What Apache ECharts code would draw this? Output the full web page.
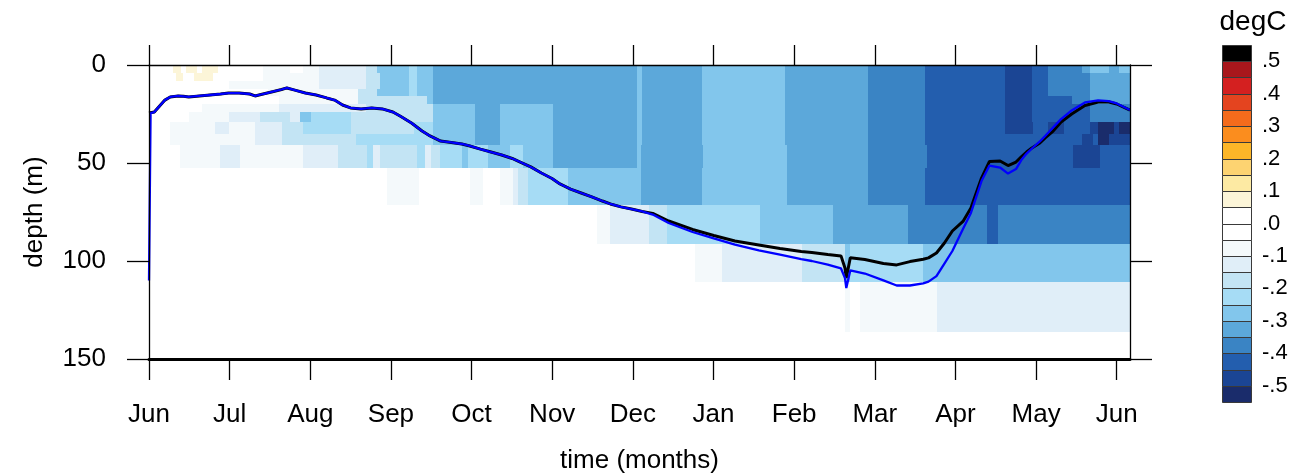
<!DOCTYPE html>
<html><head><meta charset="utf-8">
<script src="https://cdn.jsdelivr.net/npm/echarts@6/dist/echarts.min.js"></script>
<style>html,body{margin:0;padding:0;background:#fff}#c{width:1297px;height:474px}</style>
</head><body><div id="c"></div>
<script>
// ---- axes / tick labels ----
const monthTicks = [0, 30.42, 60.83, 91.25, 121.67, 152.08, 182.5, 212.92, 243.33, 273.75, 304.17, 334.58, 365];
const monthLabels = ['Jun','Jul','Aug','Sep','Oct','Nov','Dec','Jan','Feb','Mar','Apr','May','Jun'];
const depthTicks = [0, 50, 100, 150];
// ---- colour scale (degC) ----
const binEdges = [-0.55,-0.5,-0.45,-0.4,-0.35,-0.3,-0.25,-0.2,-0.15,-0.1,-0.05,0,0.05,0.1,0.15,0.2,0.25,0.3,0.35,0.4,0.45,0.5,0.55];
const binColors = ['#1a2c6b','#1b4594','#235eae','#3a84c4','#5ca8da','#82c6ec','#a6dcf5','#c3e4f4','#e0eef8','#f4f9fb','#ffffff',
                   '#ffffff','#fcf5d8','#fdeaa3','#fdd371','#fdb628','#fb8d1e','#f46b1c','#e4441f','#d42020','#a8171c','#000000'];
const cbarLabels = [-0.5,-0.4,-0.3,-0.2,-0.1,0,0.1,0.2,0.3,0.4,0.5];

// ---- mixed layer depth lines (day since 1 Jun, depth m) ----
const mldDays = [0,0.6,2,4,6,8,11,13,15,19,23,27,30,34,38,40,43,47,50,52,55,59,63,67,70,73,76,80,84,88,92,95,99,103,106,110,114,118,121,125,129,133,137,140,144,148,152,155,159,163,167,171,174,178,182,186,
  190,196,205,213,221,230,238,246,250,256,261,262.5,263,264.5,270,277,282,287,292,294,297,300,303,307,310,314,317,321,324,327,329,331,333,336,338,341,344,348,353,358,362,365,370];
const mldBlack = [24.5,24.5,24,20.9,17.9,16.3,15.8,16,16.3,15.8,15.3,14.8,14.3,14.3,14.8,15.8,14.8,13.5,12.5,11.7,12.8,14.3,15.3,16.8,17.9,20.4,21.9,22.4,21.9,22.4,24,26.3,29.6,33.7,36.2,38.8,39.5,40.3,41.3,42.9,44.4,45.9,47.7,49.5,52,55.1,57.9,60.7,63.3,65.3,67.3,69.4,70.9,72.4,73.5,74.7,
  75.7,79.6,83.9,87,89.8,91.8,93.6,95.2,95.7,96.7,97.4,103.6,108.7,98.3,99.2,101.3,102,100.3,99.1,98.4,95.9,90.8,84.7,79.8,73,57.7,49.2,49,51.3,49.5,46.9,44.4,42.3,39.8,37.2,33.7,29.1,25,20.7,18.9,18.9,19.9,23];
const mldBlue = [110,24.5,24,20.9,17.9,16.3,15.8,16,16.3,15.8,15.3,14.8,14.3,14.3,14.8,15.8,14.8,13.5,12.5,11.7,12.8,14.3,15.3,16.8,17.9,20.4,21.9,22.4,21.9,22.4,24,26.3,29.6,33.7,36.2,38.8,39.5,40.3,41.3,42.9,44.4,45.9,47.7,49.5,52,55.1,57.9,60.7,63.3,65.3,67.3,69.4,70.9,72.4,73.5,74.7,
  76.3,80.6,85.2,88.5,91.6,94.6,96.7,99,100,101.8,103.8,108.7,113.8,104.8,106.4,109.9,112.5,112.5,111.4,110.5,107.7,101.3,94.9,83.7,75.5,59.2,51.3,52.3,55.4,53.1,48.5,45.2,42.6,39,36.2,31.9,27.6,23.2,19.1,18,18.4,19.6,23];

// ---- temperature anomaly blocks per depth layer: [startDay, endDay, value] ----
const seg_0_4 = [[9,12,0.075],[14,18,0.075],[20,26,0.075],[43,53,-0.075],[58,64,-0.075],[64,82,-0.125],[82,86,-0.175],[86,98,-0.275],[98,101,-0.225],[101,107,-0.275],[107,184,-0.325],[184,186,-0.275],[186,208.5,-0.325],[208.5,240,-0.275],[240,271,-0.325],[271,292.6,-0.375],[292.6,322.8,-0.425],[322.8,333,-0.475],[333,339,-0.425],[339,352,-0.375],[352,355,-0.325],[355,362,-0.275],[362,366,-0.325],[366,370,-0.275]];
const seg_4_8 = [[10,13,0.075],[17,24,0.075],[43,64,-0.075],[64,82,-0.125],[82,87,-0.175],[87,98,-0.275],[98,101,-0.225],[101,107,-0.275],[107,184,-0.325],[184,186,-0.275],[186,208.5,-0.325],[208.5,240,-0.275],[240,271,-0.325],[271,292.6,-0.375],[292.6,322.8,-0.425],[322.8,333,-0.475],[333,339,-0.425],[339,355,-0.375],[355,370,-0.325]];
const seg_8_12 = [[30,64,-0.075],[64,82,-0.125],[82,87,-0.175],[87,98,-0.275],[98,101,-0.225],[101,107,-0.275],[107,184,-0.325],[184,186,-0.275],[186,208.5,-0.325],[208.5,240,-0.275],[240,271,-0.325],[271,292.6,-0.375],[292.6,322.8,-0.425],[322.8,333,-0.475],[333,339,-0.425],[339,355,-0.375],[355,370,-0.325]];
const seg_12_16 = [[45,79,-0.075],[79,86,-0.175],[86,98,-0.275],[98,101,-0.225],[101,107,-0.275],[107,184,-0.325],[184,186,-0.275],[186,208.5,-0.325],[208.5,240,-0.275],[240,271,-0.325],[271,292.6,-0.375],[292.6,322.8,-0.425],[322.8,333,-0.475],[333,339,-0.425],[339,355,-0.375],[355,370,-0.325]];
const seg_16_20 = [[49,79,-0.075],[79,104.8,-0.175],[104.8,107,-0.275],[107,184,-0.325],[184,186,-0.275],[186,208.5,-0.325],[208.5,240,-0.275],[240,271,-0.325],[271,292.6,-0.375],[292.6,322.8,-0.425],[322.8,333,-0.475],[333,348,-0.425],[348,355,-0.375],[355,370,-0.325]];
const seg_20_24 = [[20,49,-0.075],[49,82,-0.125],[82,107,-0.175],[107,122.9,-0.275],[122.9,132.4,-0.325],[132.4,152.3,-0.275],[152.3,184,-0.325],[184,186,-0.275],[186,208.5,-0.325],[208.5,240,-0.275],[240,271,-0.325],[271,292.6,-0.375],[292.6,322.8,-0.425],[322.8,333,-0.475],[333,355,-0.425],[355,370,-0.375]];
const seg_24_29 = [[15,30,-0.075],[30,42,-0.125],[42,53,-0.175],[53,57,-0.125],[57,61,-0.275],[61,76,-0.225],[76,107,-0.175],[107,122.9,-0.275],[122.9,132.4,-0.325],[132.4,152.3,-0.275],[152.3,184,-0.325],[184,186,-0.275],[186,208.5,-0.325],[208.5,240,-0.275],[240,271,-0.325],[271,292.6,-0.375],[292.6,322.8,-0.425],[322.8,333,-0.475],[333,355,-0.425],[355,370,-0.375]];
const seg_29_35 = [[8,25,-0.075],[25,30,-0.125],[30,40,-0.075],[40,50,-0.125],[50,58,-0.175],[58,76,-0.225],[76,100,-0.175],[100,107,-0.225],[107,122.9,-0.275],[122.9,132.4,-0.325],[132.4,152.3,-0.275],[152.3,184,-0.325],[184,186,-0.275],[186,208.5,-0.325],[208.5,240,-0.275],[240,271,-0.325],[271,292.6,-0.375],[292.6,322.8,-0.425],[322.8,333.3,-0.475],[333.3,339,-0.425],[339,345,-0.475],[345,355,-0.425],[355,358,-0.475],[358,364,-0.525],[364,366,-0.475],[366,370,-0.525]];
const seg_35_41 = [[8,40,-0.075],[40,50,-0.125],[50,78,-0.175],[78,107,-0.225],[107,122.9,-0.275],[122.9,132.4,-0.325],[132.4,152.3,-0.275],[152.3,184,-0.325],[184,186,-0.275],[186,208.5,-0.325],[208.5,240,-0.275],[240,271,-0.325],[271,292.6,-0.375],[292.6,352,-0.425],[352,356,-0.475],[356,358,-0.425],[358,362,-0.525],[362,370,-0.475]];
const seg_41_53 = [[11.7,26.8,-0.075],[26.8,34.3,-0.125],[34.3,58.1,-0.075],[58.1,71.3,-0.125],[71.3,82.2,-0.175],[82.2,84.5,-0.225],[84.5,87,-0.125],[87,101,-0.175],[101,104,-0.225],[104,106.5,-0.125],[106.5,109.7,-0.175],[109.7,118,-0.225],[118,120.3,-0.275],[120.3,127.8,-0.225],[127.8,136.1,-0.275],[136.1,141,-0.225],[141,152.3,-0.275],[152.3,184,-0.325],[184,185.7,-0.275],[185.7,209,-0.325],[209,240.6,-0.275],[240.6,271.1,-0.325],[271.1,293.4,-0.375],[293.4,348.4,-0.425],[348.4,358.6,-0.475],[358.6,370,-0.425]];
const seg_53_71 = [[89.7,102,-0.075],[121,126,-0.075],[132.4,137.3,-0.075],[137.3,139,-0.125],[139,142.9,-0.175],[142.9,158,-0.225],[158,185.7,-0.275],[185.7,208.5,-0.325],[208.5,240.6,-0.275],[240.6,271.1,-0.325],[271.1,292.6,-0.375],[292.6,370,-0.425]];
const seg_71_92 = [[168.9,173.8,-0.075],[173.8,188.5,-0.125],[188.5,195.3,-0.175],[195.3,230.4,-0.225],[230.4,257.9,-0.275],[257.9,286.2,-0.325],[286.2,316,-0.375],[316,320.1,-0.425],[320.1,370,-0.375]];
const seg_92_111 = [[205.9,216,-0.075],[216,246.2,-0.125],[246.2,262.4,-0.175],[262.4,264.3,-0.275],[264.3,291.9,-0.225],[291.9,370,-0.275]];
const seg_111_136 = [[262.4,264.3,-0.075],[268.1,297.1,-0.075],[297.1,370,-0.125]];

const layers = [
  [0,4,seg_0_4],[4,8,seg_4_8],[8,12,seg_8_12],[12,16,seg_12_16],[16,20,seg_16_20],[20,24,seg_20_24],
  [24,29,seg_24_29],[29,35,seg_29_35],[35,41,seg_35_41],[41,52.7,seg_41_53],[52.7,71.4,seg_53_71],
  [71.4,91.5,seg_71_92],[91.5,110.5,seg_92_111],[110.5,136,seg_111_136]
];

const heatData = [];
layers.forEach(([d0,d1,segs]) => segs.forEach(([t0,t1,v]) => heatData.push([t0,t1,d0,d1,v])));

function colorOf(v){
  for (let i = 0; i < binColors.length; i++) { if (v < binEdges[i+1]) return binColors[i]; }
  return binColors[binColors.length-1];
}
const cbarData = binColors.map((c,i) => [binEdges[i], binEdges[i+1], i]);

const FONT = 'Liberation Sans, Arial, Helvetica, sans-serif';
const chart = echarts.init(document.getElementById('c'), null, {renderer:'canvas'});
const axLine = {show:true, onZero:false, lineStyle:{color:'#000', width:1.3}};
const tickStyle = {color:'#000', width:1.3};
chart.setOption({
  animation:false,
  backgroundColor:'#fff',
  grid:[
    {left:149, right:167, top:65, bottom:115, show:false, containLabel:false, outerBoundsMode:'none'},
    {left:1222, top:45, width:29, height:357, show:false, containLabel:false, outerBoundsMode:'none'}
  ],
  xAxis:[
    {type:'value', gridIndex:0, position:'bottom', min:0, max:370, z:10,
     axisLine:{show:true, onZero:false, lineStyle:{color:'#000', width:3}},
     axisTick:{show:true, inside:false, length:21, customValues:monthTicks, lineStyle:tickStyle},
     axisLabel:{show:true, customValues:monthTicks, margin:43, fontSize:26, color:'#000', fontFamily:FONT,
       formatter:(v)=>{const i = monthTicks.indexOf(v); return i>=0 ? monthLabels[i] : '';}},
     splitLine:{show:false},
     name:'time (months)', nameLocation:'middle', nameGap:89,
     nameTextStyle:{fontSize:26, color:'#000', fontFamily:FONT}},
    {type:'value', gridIndex:0, position:'top', min:0, max:370, z:10,
     axisLine:axLine,
     axisTick:{show:true, inside:false, length:20, customValues:monthTicks, lineStyle:tickStyle},
     axisLabel:{show:false}, splitLine:{show:false}},
    {type:'value', gridIndex:1, min:0, max:1, show:false}
  ],
  yAxis:[
    {type:'value', gridIndex:0, position:'left', min:0, max:150, interval:50, inverse:true, z:10,
     axisLine:axLine,
     axisTick:{show:true, inside:false, length:22, lineStyle:tickStyle},
     axisLabel:{show:true, margin:43, fontSize:26, color:'#000', fontFamily:FONT},
     splitLine:{show:false},
     name:'depth (m)', nameLocation:'middle', nameGap:114, nameRotate:90,
     nameTextStyle:{fontSize:26, color:'#000', fontFamily:FONT, verticalAlign:'middle'}},
    {type:'value', gridIndex:0, position:'right', min:0, max:150, interval:50, inverse:true, z:10,
     axisLine:axLine,
     axisTick:{show:true, inside:false, length:22, lineStyle:tickStyle},
     axisLabel:{show:false}, splitLine:{show:false}},
    {type:'value', gridIndex:1, position:'right', min:-0.55, max:0.55, z:10,
     axisLine:{show:false}, axisTick:{show:false}, splitLine:{show:false},
     axisLabel:{show:true, customValues:cbarLabels, margin:11, fontSize:22, color:'#000', fontFamily:FONT,
       formatter:(v)=>{const a = Math.round(Math.abs(v)*10); return (v < -1e-9 ? '-' : '') + '.' + a;}},
     name:'degC', nameLocation:'end', nameGap:9,
     nameTextStyle:{fontSize:28, color:'#000', fontFamily:FONT, align:'center', padding:[0,0,0,62]}}
  ],
  series:[
    {type:'custom', xAxisIndex:0, yAxisIndex:0, z:1, clip:true,
     dimensions:['t0','t1','d0','d1','v'], encode:{x:[0,1], y:[2,3]},
     data:heatData,
     renderItem:(params, api) => {
       const a = api.coord([api.value(0), api.value(2)]);
       const b = api.coord([api.value(1), api.value(3)]);
       const x0 = Math.round(Math.min(a[0],b[0])), x1 = Math.round(Math.max(a[0],b[0]));
       const y0 = Math.round(Math.min(a[1],b[1])), y1 = Math.round(Math.max(a[1],b[1]));
       return {type:'rect', shape:{x:x0, y:y0, width:x1-x0, height:y1-y0}, style:{fill:colorOf(api.value(4))}};
     }},
    {type:'line', xAxisIndex:0, yAxisIndex:0, z:3, showSymbol:false, symbol:'none', clip:true,
     data:mldDays.map((t,i)=>[t, mldBlack[i]]), lineStyle:{color:'#000', width:3}},
    {type:'line', xAxisIndex:0, yAxisIndex:0, z:4, showSymbol:false, symbol:'none', clip:true,
     data:mldDays.map((t,i)=>[t, mldBlue[i]]), lineStyle:{color:'#0000ff', width:2.3}},
    {type:'custom', xAxisIndex:2, yAxisIndex:2, z:2,
     dimensions:['lo','hi','i'], encode:{y:[0,1]},
     data:cbarData,
     renderItem:(params, api) => {
       const a = api.coord([0, api.value(0)]);
       const b = api.coord([1, api.value(1)]);
       const x0 = Math.round(Math.min(a[0],b[0])), x1 = Math.round(Math.max(a[0],b[0]));
       const y0 = Math.round(Math.min(a[1],b[1])), y1 = Math.round(Math.max(a[1],b[1]));
       return {type:'rect', shape:{x:x0+0.5, y:y0+0.5, width:x1-x0, height:y1-y0},
               style:{fill:binColors[api.value(2)], stroke:'#3a3a3a', lineWidth:1}};
     }}
  ]
});
</script></body></html>
